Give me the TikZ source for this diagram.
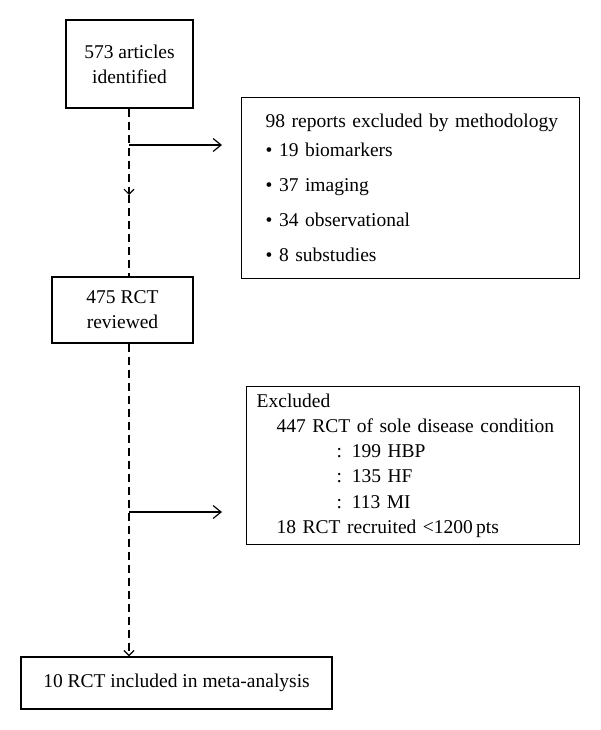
\documentclass[tikz,border=0pt]{standalone}
\usepackage{fontspec}
\setmainfont{Liberation Serif}
\usetikzlibrary{arrows.meta}
\begin{document}
\begin{tikzpicture}[x=1pt,y=-1pt,
  box/.style={draw, line width=1.4pt, inner sep=0pt, font=\fontsize{19.5}{25}\selectfont},
  flow/.style={line width=1.2pt, dash pattern=on 8pt off 5pt},
  side/.style={line width=1.2pt, -{Straight Barb[length=8pt,width=13pt]}},
  midtip/.style={-{Straight Barb[length=5pt,width=10pt]}}
]
\useasboundingbox (0,0) rectangle (600,730);

\node[box, minimum width=127pt, minimum height=88pt, align=center] (b1) at (129.5,64) {573 articles\\identified};
\node[box, minimum width=141pt, minimum height=66pt, align=center] (b2) at (122.5,310) {475 RCT\\reviewed};
\node[box, minimum width=311pt, minimum height=52pt] (b3) at (176.5,683) {10 RCT included in meta-analysis};

\node[box, anchor=north west, minimum height=181pt, text width=290pt, inner xsep=24pt, align=left,
  font=\fontsize{19.5}{29}\selectfont] (r1) at (241,97)
  {\mbox{98 reports excluded by methodology}\\
   \textbullet\ 19 biomarkers\\[6pt]
   \textbullet\ 37 imaging\\[6pt]
   \textbullet\ 34 observational\\[6pt]
   \textbullet\ 8 substudies};

\node[box, anchor=north west, minimum height=158pt, text width=313pt, inner xsep=10pt, align=left,
  font=\fontsize{19.5}{25.2}\selectfont] (r2) at (246,386)
  {Excluded\\
   \hspace*{20pt}447 RCT of sole disease condition\\
   \hspace*{80pt}: 199 HBP\\
   \hspace*{80pt}: 135 HF\\
   \hspace*{80pt}: 113 MI\\
   \hspace*{20pt}18 RCT recruited <1200\,pts};

\coordinate (m1) at (129,195);
\coordinate (t1) at (129,145);
\coordinate (e1) at (222,145);
\coordinate (t2) at (129,512);
\coordinate (e2) at (222,512);

\draw[flow, midtip] (b1.south -| m1) -- (m1);
\draw[flow] (m1) -- (m1 |- b2.north);
\draw[flow, midtip] (m1 |- b2.south) -- (m1 |- b3.north);
\draw[side] (t1) -- (e1);
\draw[side] (t2) -- (e2);
\end{tikzpicture}
\end{document}
